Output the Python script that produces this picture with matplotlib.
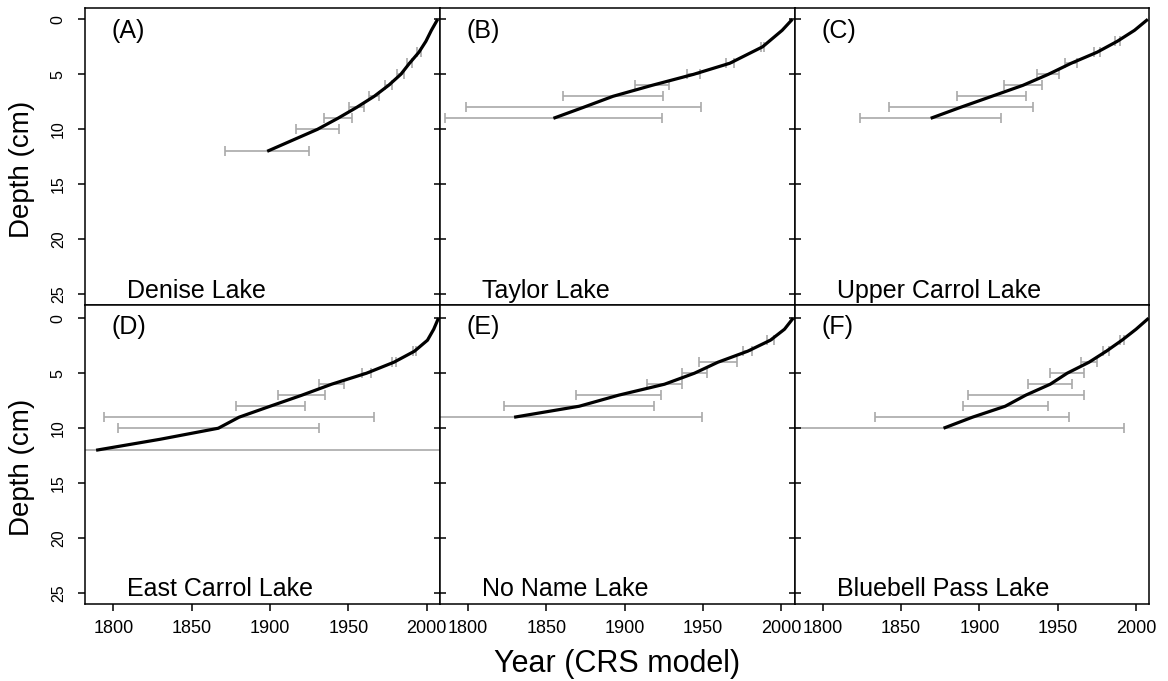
import matplotlib
matplotlib.use("Agg")
import matplotlib.pyplot as plt
import numpy as np

plt.rcParams['font.family'] = ['Liberation Sans', 'DejaVu Sans']

# ---------------- data ----------------
lake_names = ["Denise Lake", "Taylor Lake", "Upper Carrol Lake",
              "East Carrol Lake", "No Name Lake", "Bluebell Pass Lake"]
panel_tags = ["(A)", "(B)", "(C)", "(D)", "(E)", "(F)"]

A_depth = [0, 1, 2, 3, 4, 5, 6, 7, 8, 9, 10, 12]
A_year = [2007, 2003, 1999.5, 1995, 1989, 1983.5, 1975.7, 1966.5, 1955.4, 1943.3, 1930.3, 1898.2]
A_err = [0, 0, 0, 1.4, 1.5, 2.2, 2.1, 3.2, 4.9, 9.0, 14.0, 26.9]

B_depth = [0, 1, 2.5, 4, 5, 6, 7, 8, 9]
B_year = [2007, 2000.5, 1988, 1967, 1944, 1917.5, 1892.5, 1873.7, 1854.5]
B_err = [0, 0, 1.0, 2.5, 4.3, 11.0, 32.0, 75.0, 69.2]

C_depth = [0, 1, 2, 3, 4, 5, 6, 7, 8, 9]
C_year = [2007.5, 1999, 1988, 1975, 1958.5, 1944, 1927.8, 1907.9, 1888, 1868.9]
C_err = [0, 0, 1.5, 2.1, 3.7, 7.0, 12.0, 21.9, 46.0, 45.0]

D_depth = [0, 1, 2, 3, 4, 5, 6, 7, 8, 9, 10, 11, 12]
D_year = [2007.5, 2004.5, 2000.5, 1992.2, 1979.1, 1961.6, 1939.3, 1920.3, 1900.1, 1880.2, 1867, 1830, 1789]
D_err = [0, 0, 0, 1.0, 1.4, 3.0, 8.0, 15.0, 22.0, 86.0, 64.0, 0, 300]

E_depth = [0, 1, 2, 3, 4, 5, 6, 7, 8, 9]
E_year = [2007.5, 2002, 1993, 1978.5, 1959.5, 1944.5, 1925.4, 1896, 1871, 1829.4]
E_err = [0, 0, 2.0, 2.9, 12.0, 7.8, 10.9, 26.9, 47.9, 120.0]

F_depth = [0, 1, 2, 3, 4, 5, 6, 7, 8, 9, 10]
F_year = [2008, 2000, 1991, 1981, 1970, 1956, 1945.2, 1929.5, 1916.5, 1895.5, 1877.1]
F_err = [0, 0, 1.5, 2.0, 5.0, 10.9, 13.9, 37.0, 27.2, 62.0, 115.0]

x_ticks = [1800, 1850, 1900, 1950, 2000]
y_ticks = [0, 5, 10, 15, 20, 25]

panels = [(A_depth, A_year, A_err), (B_depth, B_year, B_err), (C_depth, C_year, C_err),
          (D_depth, D_year, D_err), (E_depth, E_year, E_err), (F_depth, F_year, F_err)]

# ---------------- layout ----------------
W, H = 1168, 681
fig = plt.figure(figsize=(W / 100, H / 100), dpi=100)

col_left_px = [85.3, 440.0, 794.7]
col_w_px = 354.7
rows_px = [(8.3, 305.0), (305.0, 603.5)]
row_ylim = [(25.97, -1.0), (25.93, -1.2)]

bar_color = '#a9a9a9'

for i, (dep, yr, err) in enumerate(panels):
    r, c = divmod(i, 3)
    top, bot = rows_px[r]
    ax = fig.add_axes([col_left_px[c] / W, 1 - bot / H, col_w_px / W, (bot - top) / H])

    dep = np.asarray(dep, float)
    yr = np.asarray(yr, float)
    err = np.asarray(err, float)
    m = err > 0
    ax.errorbar(yr[m], dep[m], xerr=err[m], fmt='none', ecolor=bar_color,
                elinewidth=1.2, capsize=3.6, capthick=1.2, zorder=1)
    ax.plot(yr, dep, color='black', lw=2.3, solid_capstyle='butt',
            solid_joinstyle='round', zorder=3)

    ax.set_xlim(1782.1, 2008.5)
    ax.set_ylim(*row_ylim[r])
    ax.set_xticks(x_ticks)
    ax.set_yticks(y_ticks)

    for s in ax.spines.values():
        s.set_linewidth(1.1)
        s.set_color('black')

    if c == 0:
        ax.tick_params(axis='y', direction='out', length=5, width=1.1,
                       labelsize=11.5, labelrotation=90, pad=9)
        plt.setp(ax.get_yticklabels(), va='center')
    else:
        ax.tick_params(axis='y', direction='inout', length=8, width=1.1,
                       labelleft=False)

    if r == 0:
        ax.tick_params(axis='x', bottom=False, labelbottom=False)
    else:
        ax.tick_params(axis='x', direction='out', length=5, width=1.1,
                       labelsize=13, pad=7)

    ax.text(0.075, 0.965, panel_tags[i], transform=ax.transAxes,
            fontsize=18, ha='left', va='top')
    ax.text(0.118, 0.025, lake_names[i], transform=ax.transAxes,
            fontsize=18, ha='left', va='baseline')

# axis titles
for (top, bot) in rows_px:
    yc = (top + bot) / 2 + 13
    fig.text(22 / W, 1 - yc / H, "Depth (cm)", rotation=90, fontsize=20,
             ha='center', va='center')

fig.text(617.4 / W, 1 - 664 / H, "Year (CRS model)", fontsize=22,
         ha='center', va='center')

fig.savefig("out.png", dpi=100)
